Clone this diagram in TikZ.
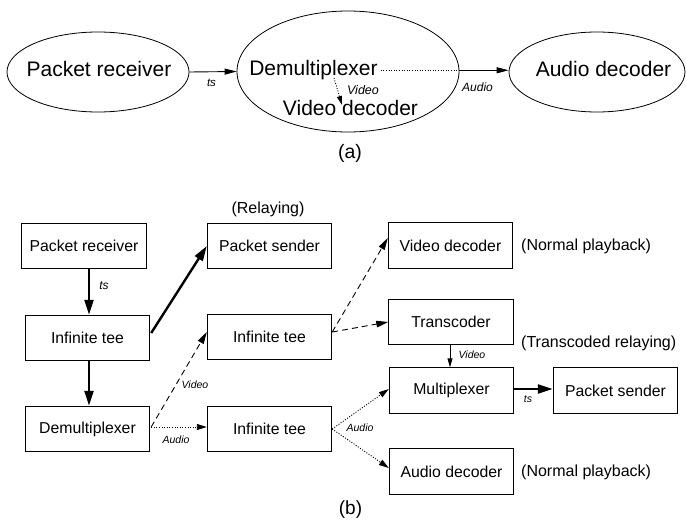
\documentclass[tikz,border=0pt]{standalone}
\usepackage{fontspec}
\setmainfont{Liberation Sans}
\usetikzlibrary{arrows.meta,shapes.geometric,calc}
\begin{document}
\begin{tikzpicture}[x=1pt,y=-1pt,
  ell/.style={draw, ellipse, line width=0.8pt, inner sep=0pt},
  big/.style={font=\fontsize{21}{24}\selectfont, inner sep=0pt, anchor=base},
  box/.style={draw, line width=0.9pt, minimum width=124.5pt, minimum height=45.5pt, inner sep=0pt, font=\fontsize{15.8}{18}\selectfont},
  note/.style={font=\fontsize{16}{19}\selectfont, inner sep=0pt},
  lab/.style={font=\itshape\fontsize{10.5}{12}\selectfont, inner sep=0pt},
  toplab/.style={font=\itshape\fontsize{12}{14}\selectfont, inner sep=0pt},
  thinarr/.style={line width=0.9pt, -{Triangle[length=12pt,width=6pt]}},
  smallarr/.style={line width=0.9pt, -{Triangle[length=9pt,width=5pt]}},
  dsh/.style={line width=0.9pt, dash pattern=on 6pt off 4pt, -{Triangle[length=12pt,width=6.5pt]}},
  dotline/.style={line width=0.9pt, dash pattern=on 1pt off 1.6pt},
  dotarr/.style={dotline, -{Triangle[length=10pt,width=6pt]}},
  thk/.style={line width=2.4pt, -{Triangle[length=15pt,width=9pt]}}
]
\useasboundingbox (0,0) rectangle (686,527);

% ---------- (a) ----------
\node[ell, minimum width=182pt, minimum height=80pt] (e1) at (98,72) {};
\node[ell, minimum width=222pt, minimum height=121pt] (e2) at (348,71.5) {};
\node[ell, minimum width=176pt, minimum height=80pt] (e3) at (597,72) {};
\node[big] (t1) at (99,76.7) {Packet receiver};
\node[big] (dmx) at (313.5,75.7) {Demultiplexer};
\node[big] (vdx) at (350.5,116) {Video decoder};
\node[big] (t3) at (603.5,76.7) {Audio decoder};

\draw[thinarr] (e1.east) -- (e2.west);
\node[font=\itshape\fontsize{11.5}{13}\selectfont, inner sep=0pt] (lts) at (211.5,83) {ts};

\draw[dotline] ($(dmx.east)+(3,0)$) -- (dmx.east -| e2.east);
\draw[thinarr] (dmx.east -| e2.east) -- (dmx.east -| e3.west);
\node[toplab] (laud) at (477.5,87) {Audio};

\coordinate (va) at (334,78);
\coordinate (vb) at (342,105);
\draw[dotline, -{Triangle[length=9pt,width=5pt]}] (va) -- (vb);
\node[font=\itshape\fontsize{12.5}{14}\selectfont, inner sep=0pt] (lvid) at (363,90) {Video};

\node[font=\fontsize{19.5}{22}\selectfont, inner sep=0pt] (capa) at (350,153) {(a)};

% ---------- (b) ----------
\node[box] (pr) at (84,246) {Packet receiver};
\node[box] (ps1) at (269.5,246) {Packet sender};
\node[box] (it1) at (87.5,338) {Infinite tee};
\node[box] (dm) at (87.5,429) {Demultiplexer};
\node[box] (it2) at (269.5,337) {Infinite tee};
\node[box] (it3) at (269.5,429) {Infinite tee};
\node[box] (vd) at (450.5,245.5) {Video decoder};
\node[box] (tc) at (451,322) {Transcoder};
\node[box] (mx) at (451.5,390.5) {Multiplexer};
\node[box] (ps2) at (615.5,390.5) {Packet sender};
\node[box] (ad) at (451.5,471.5) {Audio decoder};

\node[note] (nrel) at (268,209) {(Relaying)};
\node[note, anchor=west] (nnp1) at (521,246) {(Normal playback)};
\node[note, anchor=west] (ntr) at (521,343) {(Transcoded relaying)};
\node[note, anchor=west] (nnp2) at (521,472) {(Normal playback)};

\draw[thk] ($(pr.south -| it1.north)+(1.5,0)$) -- ($(it1.north)+(1.5,0)$);
\node[font=\itshape\fontsize{12}{14}\selectfont, inner sep=0pt] (lts1) at (104,286) {ts};
\draw[thk] ($(it1.east)+(1,-5)$) -- (ps1.west);
\draw[thk] ($(it1.south)+(1.5,0)$) -- ($(dm.north)+(1.5,0)$);

\draw[dsh] ($(dm.east)+(1,-2)$) -- ($(it2.west)+(0,-5)$);
\node[lab] (lv1) at (195,385) {Video};
\draw[dotline, -{Triangle[length=10pt,width=6pt]}] ($(dm.east)+(1,-2)$) -- ($(it3.west)+(0,-2)$);
\node[lab] (la1) at (176,440) {Audio};

\draw[dsh] ($(it2.east)+(0,-5)$) -- ($(vd.west)+(0,-7.5)$);
\draw[dsh] ($(it2.east)+(0,-5)$) -- (tc.west);

\draw[smallarr] (tc.south -| 450,0) -- (mx.north -| 450,0);
\node[lab] (lv2) at (472,355) {Video};

\draw[dotarr] (it3.east) -- ($(mx.west)+(0,-1.5)$);
\draw[dotarr] (it3.east) -- ($(ad.west)+(0,-3.5)$);
\node[lab] (la2) at (360,428) {Audio};

\draw[thk] ($(mx.east)+(0,-1.5)$) -- ($(ps2.west)+(0,-1.5)$);
\node[font=\itshape\fontsize{10.5}{12}\selectfont, inner sep=0pt] (lts2) at (528,399) {ts};

\node[font=\fontsize{19}{22}\selectfont, inner sep=0pt] (capb) at (350.5,510) {(b)};
\end{tikzpicture}
\end{document}
